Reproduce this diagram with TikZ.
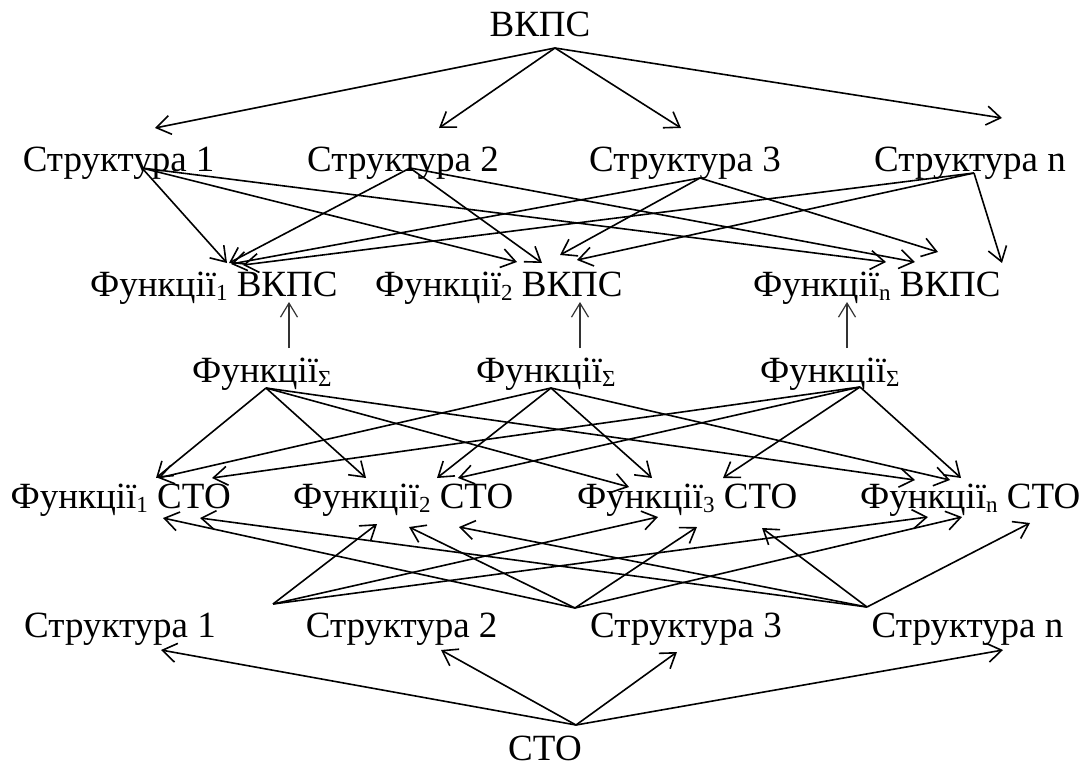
\documentclass[tikz,border=0pt]{standalone}
\usepackage{fontspec}
\setmainfont{Liberation Serif}
\usetikzlibrary{arrows.meta}
\newcommand\sbx[1]{\raisebox{-0.13em}{\fontsize{23}{23}\selectfont #1}}
\tikzset{
  lbl/.style={inner sep=0pt, anchor=base west, font=\fontsize{37}{40}\selectfont},
  arr/.style={line width=1.6pt, line join=round, -{Straight Barb[length=14pt,width=19pt,line width=1.6pt]}},
  varr/.style={line width=1.2pt, draw=black!80, -{Straight Barb[length=14pt,width=17pt,line width=1.2pt]}}
}
\begin{document}
\begin{tikzpicture}[x=1pt,y=-1pt]
\useasboundingbox[fill=white] (0,0) rectangle (1088,769);
% labels
\node[lbl,anchor=base] (vkps) at (540,36) {ВКПС};
\node[lbl] (s1) at (22.6,171) {Структура 1};
\node[lbl] (s2) at (307,171) {Структура 2};
\node[lbl] (s3) at (589,171) {Структура 3};
\node[lbl] (sn) at (874,171) {Структура n};
\node[lbl] (f1) at (90,296) {Функції\sbx{1} ВКПС};
\node[lbl] (f2) at (375,296) {Функції\sbx{2} ВКПС};
\node[lbl] (fn) at (753,296) {Функції\sbx{n} ВКПС};
\node[lbl] (g1) at (192,382) {Функції\sbx{Σ}};
\node[lbl] (g2) at (476,382) {Функції\sbx{Σ}};
\node[lbl] (g3) at (760,382) {Функції\sbx{Σ}};
\node[lbl] (c1) at (10.4,508) {Функції\sbx{1} СТО};
\node[lbl] (c2) at (293,508) {Функції\sbx{2} СТО};
\node[lbl] (c3) at (577,508) {Функції\sbx{3} СТО};
\node[lbl] (cn) at (860,508) {Функції\sbx{n} СТО};
\node[lbl] (t1) at (24,637) {Структура 1};
\node[lbl] (t2) at (305.6,637) {Структура 2};
\node[lbl] (t3) at (590,637) {Структура 3};
\node[lbl] (tn) at (871.5,637) {Структура n};
\node[lbl,anchor=base] (sto) at (545,760) {СТО};
% connector points
\coordinate (A) at (555,48);
\coordinate (a1) at (155,128); \coordinate (a2) at (439,128);
\coordinate (a3) at (681,128); \coordinate (a4) at (1002,118);
\coordinate (S1o) at (142,168); \coordinate (S2o) at (410,168);
\coordinate (S3o) at (700,178); \coordinate (Sno) at (974,173);
\coordinate (f1a) at (227,263); \coordinate (f1b) at (229,263);
\coordinate (f1c) at (231,264); \coordinate (f1d) at (243,265);
\coordinate (f2a) at (517,262); \coordinate (f2b) at (542,263);
\coordinate (f2c) at (560,255); \coordinate (f2d) at (577,260);
\coordinate (fna) at (886,262); \coordinate (fnb) at (915,262);
\coordinate (fnc) at (938,252); \coordinate (fnd) at (1002,263);
\coordinate (v1b) at (289,348); \coordinate (v1t) at (289,302);
\coordinate (v2b) at (580,348); \coordinate (v2t) at (580,302);
\coordinate (v3b) at (847,348); \coordinate (v3t) at (847,302);
\coordinate (G1o) at (266,388); \coordinate (G2o) at (551,388); \coordinate (G3o) at (860,387);
\coordinate (c1a) at (156,478); \coordinate (c1b) at (158,478); \coordinate (c1c) at (212,478);
\coordinate (c2a) at (366,478); \coordinate (c2b) at (437,478); \coordinate (c2c) at (458,478);
\coordinate (c3a) at (629,487); \coordinate (c3b) at (652,478); \coordinate (c3c) at (723,478);
\coordinate (cna) at (915,480); \coordinate (cnb) at (950,480); \coordinate (cnc) at (961,478);
\coordinate (O1) at (273,604); \coordinate (O2) at (575,608); \coordinate (O3) at (867,607);
\coordinate (d1b) at (163,518); \coordinate (d1c) at (200,518);
\coordinate (d2a) at (377,524); \coordinate (d2b) at (409,527); \coordinate (d2c) at (459,527);
\coordinate (d3a) at (658,517); \coordinate (d3b) at (697,527); \coordinate (d3c) at (762,528);
\coordinate (dna) at (928,517); \coordinate (dnb) at (962,517); \coordinate (dnc) at (1030,523);
\coordinate (B) at (576,725);
\coordinate (b1) at (161,650); \coordinate (b2) at (441,650);
\coordinate (b3) at (677,652); \coordinate (b4) at (1003,650);
% top fan
\foreach \t in {a1,a2,a3,a4} \draw[arr] (A) -- (\t);
% structures to functions VKPS
\draw[arr] (S1o) -- (f1a); \draw[arr] (S1o) -- (f2a); \draw[arr] (S1o) -- (fna);
\draw[arr] (S2o) -- (f1b); \draw[arr] (S2o) -- (f2b); \draw[arr] (S2o) -- (fnb);
\draw[arr] (S3o) -- (f1c); \draw[arr] (S3o) -- (f2c); \draw[arr] (S3o) -- (fnc);
\draw[arr] (Sno) -- (f1d); \draw[arr] (Sno) -- (f2d); \draw[arr] (Sno) -- (fnd);
% vertical
\draw[varr] (v1b) -- (v1t);
\draw[varr] (v2b) -- (v2t);
\draw[varr] (v3b) -- (v3t);
% sums to functions STO
\draw[arr] (G1o) -- (c1a); \draw[arr] (G1o) -- (c2a); \draw[arr] (G1o) -- (c3a); \draw[arr] (G1o) -- (cna);
\draw[arr] (G2o) -- (c1b); \draw[arr] (G2o) -- (c2b); \draw[arr] (G2o) -- (c3b); \draw[arr] (G2o) -- (cnb);
\draw[arr] (G3o) -- (c1c); \draw[arr] (G3o) -- (c2c); \draw[arr] (G3o) -- (c3c); \draw[arr] (G3o) -- (cnc);
% lower structures to functions STO
\draw[arr] (O1) -- (d2a); \draw[arr] (O1) -- (d3a); \draw[arr] (O1) -- (dna);
\draw[arr] (O2) -- (d1b); \draw[arr] (O2) -- (d2b); \draw[arr] (O2) -- (d3b); \draw[arr] (O2) -- (dnb);
\draw[arr] (O3) -- (d1c); \draw[arr] (O3) -- (d2c); \draw[arr] (O3) -- (d3c); \draw[arr] (O3) -- (dnc);
% bottom fan
\foreach \t in {b1,b2,b3,b4} \draw[arr] (B) -- (\t);
\end{tikzpicture}
\end{document}
